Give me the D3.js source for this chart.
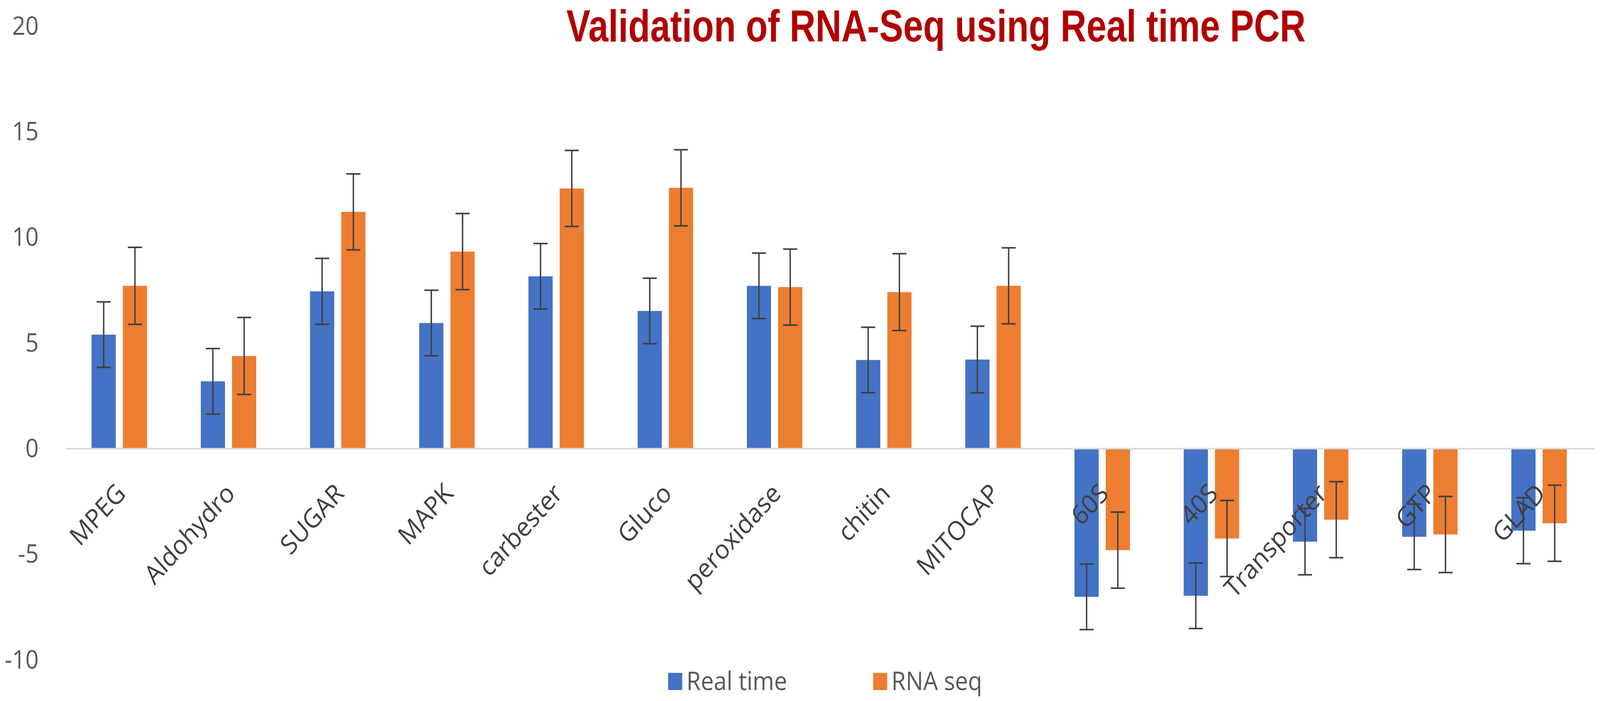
<!DOCTYPE html>
<html>
<head>
<meta charset="utf-8">
<script src="https://cdn.jsdelivr.net/npm/d3@7"></script>
<style>
  html, body { margin: 0; padding: 0; background: #fff; overflow: hidden; }
  .chart svg { display: block; width: 100vw; height: 100vh; }
  text { font-family: "Open Sans", sans-serif; }
</style>
</head>
<body>
<div class="chart"></div>
<script>
// gene names along the x axis
const categories = ["MPEG", "Aldohydro", "SUGAR", "MAPK", "carbester", "Gluco", "peroxidase",
  "chitin", "MITOCAP", "60S", "40S", "Transporter", "GTP", "GLAD"]
const series = ["Real time", "RNA seq"]

// values
const realTime = [5.40, 3.19, 7.45, 5.95, 8.16, 6.52, 7.71, 4.20, 4.22, -7.01, -6.96, -4.40, -4.17, -3.88]
const rnaSeq = [7.71, 4.39, 11.21, 9.33, 12.32, 12.35, 7.65, 7.41, 7.71, -4.80, -4.25, -3.36, -4.06, -3.53]
const realTimeErr = [1.55, 1.55, 1.56, 1.55, 1.55, 1.55, 1.55, 1.55, 1.58, 1.55, 1.55, 1.57, 1.55, 1.56]
const rnaSeqErr = [1.82, 1.82, 1.80, 1.80, 1.80, 1.80, 1.80, 1.82, 1.80, 1.80, 1.80, 1.80, 1.80, 1.80]
const yTicks = [-10, -5, 0, 5, 10, 15, 20]

const colors = {"Real time": "#4472C4", "RNA seq": "#ED7D31"}

const width = 4550
const height = 1794

// flatten into rows for drawing
let rows = []
categories.forEach((c, i) => {
    rows.push({cat: c, s: "Real time", v: realTime[i], e: realTimeErr[i]})
    rows.push({cat: c, s: "RNA seq", v: rnaSeq[i], e: rnaSeqErr[i]})
})

// viewBox so the whole chart fits whatever the window really is
let svg = d3.select(".chart")
    .append("svg")
    .attr("viewBox", "0 0 " + width + " " + height)
    .attr("preserveAspectRatio", "none")

svg.append("rect").attr("width", width).attr("height", height).attr("fill", "#fff")

let x = d3.scaleBand()
    .domain(categories)
    .range([184, 4532])

let xs = d3.scaleBand()
    .domain(series)
    .range([0, x.bandwidth()])
    .paddingInner(0.225)
    .paddingOuter(0.86)

let y = d3.scaleLinear()
    .domain([-10, 20])
    .range([1689, 67])

// title
svg.append("text")
    .text("Validation of RNA-Seq using Real time PCR")
    .attr("transform", "translate(2662,106) scale(1,1.13)")
    .attr("text-anchor", "middle")
    .style("font-family", "'Liberation Sans', Arial, sans-serif")
    .style("font-weight", "bold")
    .style("font-size", "102px")
    .attr("fill", "#B00000")

// y axis, labels only (plain hyphen for the minus sign)
let yAxis = d3.axisLeft(y)
    .tickValues(yTicks)
    .tickFormat(d => String(d))
    .tickSize(0)
    .tickPadding(0)
let yg = svg.append("g")
    .attr("transform", "translate(110,0)")
    .call(yAxis)
yg.select(".domain").remove()
yg.selectAll("text")
    .style("font-size", "66px")
    .style("font-family", "'Open Sans', sans-serif")
    .attr("fill", "#595959")

// bars
svg.selectAll(".bar")
    .data(rows)
    .enter()
    .append("rect")
    .attr("class", "bar")
    .attr("x", d => x(d.cat) + xs(d.s))
    .attr("width", xs.bandwidth())
    .attr("y", d => y(Math.max(0, d.v)))
    .attr("height", d => Math.abs(y(d.v) - y(0)))
    .attr("fill", d => colors[d.s])

// zero line
svg.append("line")
    .attr("x1", 187).attr("x2", 4535)
    .attr("y1", y(0)).attr("y2", y(0))
    .attr("stroke", "#D9D9D9")
    .attr("stroke-width", 4)

// error bars
let err = svg.selectAll(".err")
    .data(rows)
    .enter()
    .append("g")
    .attr("class", "err")
    .attr("stroke", "#404040")
    .attr("stroke-width", 4)
let cx = d => x(d.cat) + xs(d.s) + xs.bandwidth() / 2
err.append("line")
    .attr("x1", cx).attr("x2", cx)
    .attr("y1", d => y(d.v + d.e)).attr("y2", d => y(d.v - d.e))
err.append("line")
    .attr("x1", d => cx(d) - 20).attr("x2", d => cx(d) + 20)
    .attr("y1", d => y(d.v + d.e)).attr("y2", d => y(d.v + d.e))
err.append("line")
    .attr("x1", d => cx(d) - 20).attr("x2", d => cx(d) + 20)
    .attr("y1", d => y(d.v - d.e)).attr("y2", d => y(d.v - d.e))

// category labels, rotated, sitting just under the zero line
svg.selectAll(".cat")
    .data(categories)
    .enter()
    .append("text")
    .attr("class", "cat")
    .text(d => d)
    .attr("transform", d => "translate(" + (x(d) + x.bandwidth() / 2 + 5) + ",1250) rotate(-45)")
    .attr("text-anchor", "end")
    .attr("dy", "0.35em")
    .style("font-size", "68px")
    .attr("fill", "#404040")

// legend
let legend = svg.append("g").attr("id", "legend")
let lx = {"Real time": 1900, "RNA seq": 2483}
let li = legend.selectAll("g")
    .data(series)
    .enter()
    .append("g")
    .attr("transform", d => "translate(" + lx[d] + ",1722)")
li.append("rect")
    .attr("width", 40).attr("height", 44)
    .attr("fill", d => colors[d])
li.append("text")
    .text(d => d)
    .attr("x", 52).attr("y", 44)
    .style("font-size", "66px")
    .attr("fill", "#595959")
</script>
</body>
</html>
